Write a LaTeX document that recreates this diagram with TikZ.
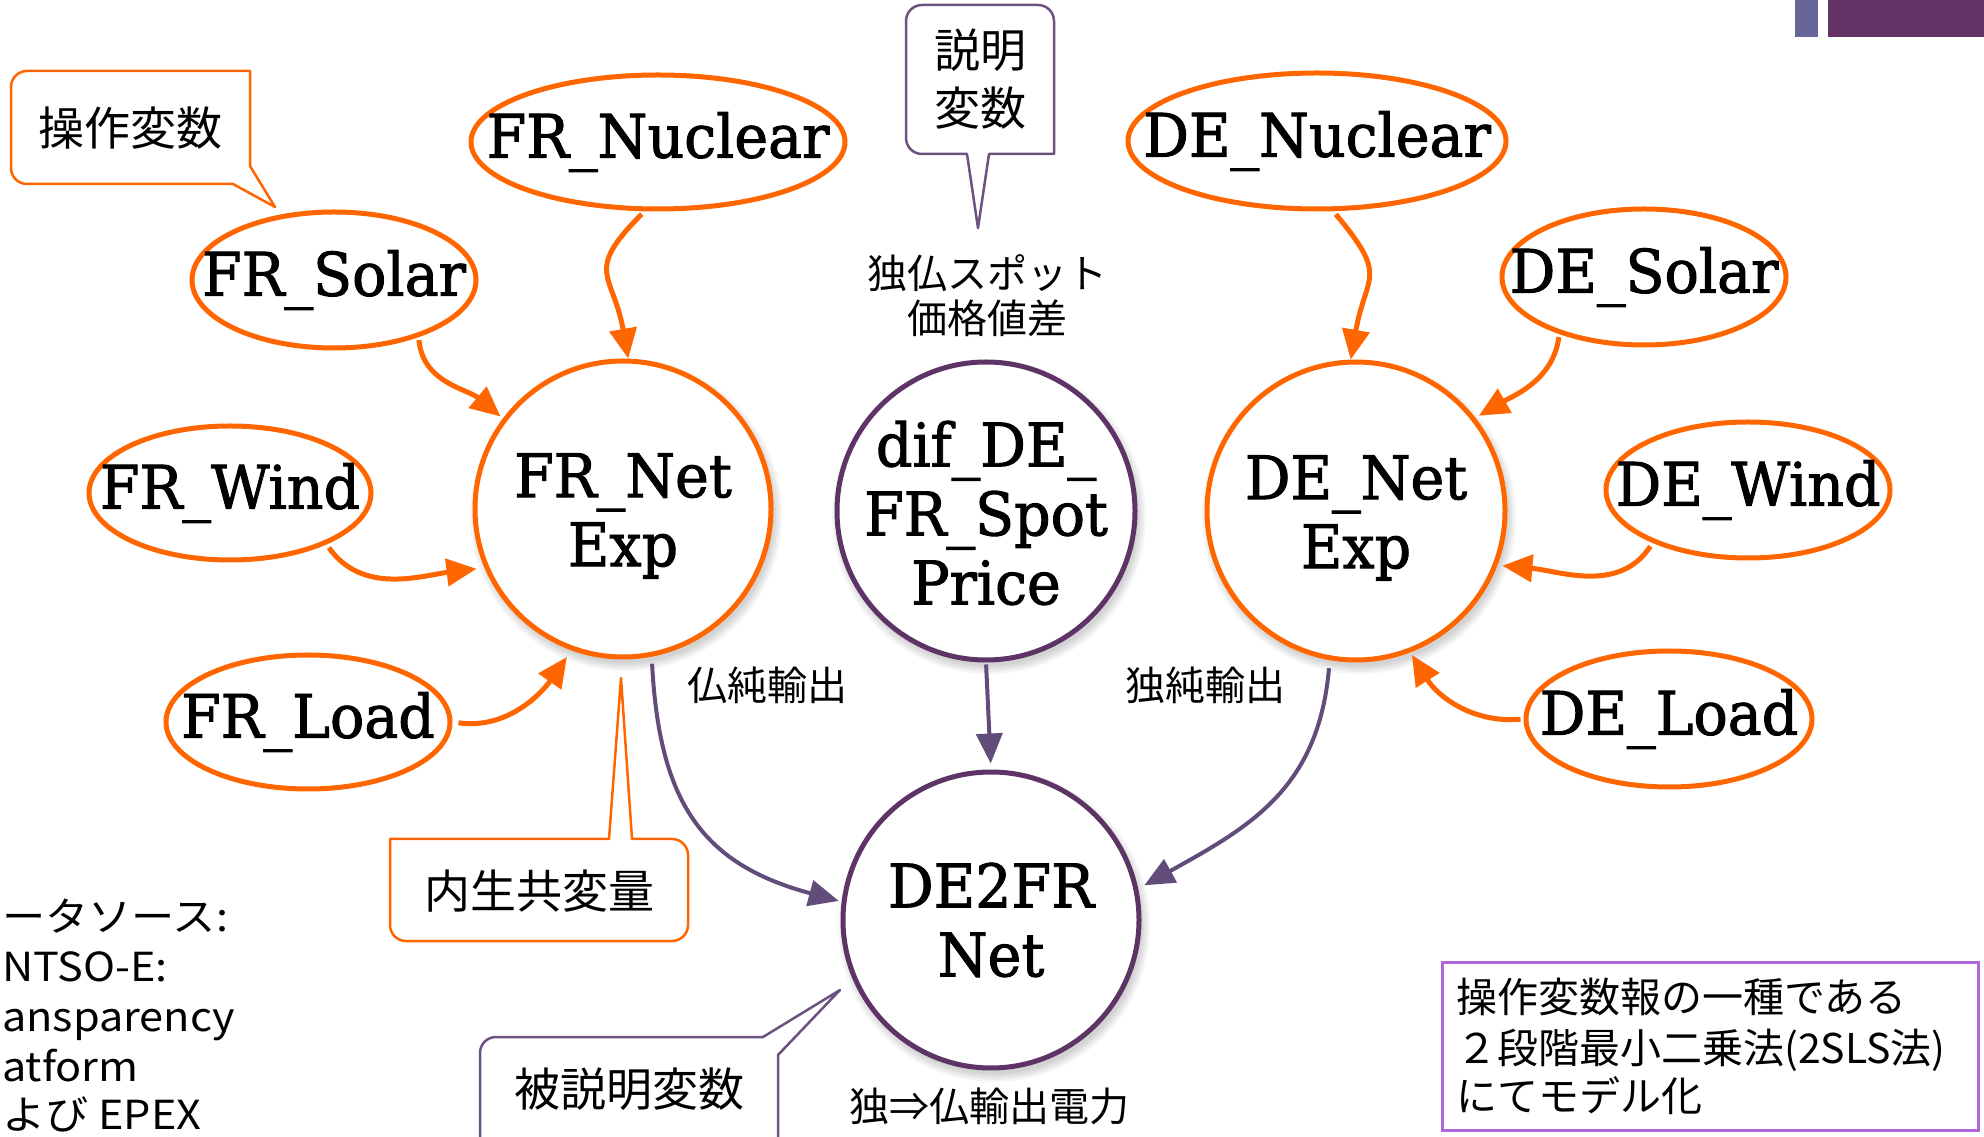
\documentclass[tikz,border=0pt]{standalone}
\usepackage{fontspec}
\setmainfont{Noto Sans CJK JP}
\newfontfamily\slabfont[FakeBold=1.6,FakeStretch=0.95]{DejaVu Serif}
\newfontfamily\srcfont[FakeStretch=1.08]{Noto Sans CJK JP}
\usetikzlibrary{arrows.meta,shapes.geometric}
\definecolor{myorange}{HTML}{FF6600}
\definecolor{circpurple}{HTML}{5E3366}
\definecolor{arrpurple}{HTML}{624C7A}
\definecolor{callpurple}{HTML}{6B5280}
\definecolor{boxlilac}{HTML}{B266DD}
\definecolor{barblue}{HTML}{65659A}
\definecolor{barpurple}{HTML}{663366}
\begin{document}
\begin{tikzpicture}[x=1pt,y=1pt,
  oell/.style={ellipse, draw=myorange, line width=5pt, fill=white, inner sep=0pt,
    font=\slabfont\fontsize{60}{69}\selectfont},
  ocirc/.style={circle, draw=myorange, line width=5pt, fill=white, inner sep=0pt, minimum size=296pt},
  pcirc/.style={circle, draw=circpurple, line width=5pt, fill=white, inner sep=0pt, minimum size=298pt},
  ctext/.style={align=center, inner sep=0pt, font=\slabfont\fontsize{60}{69}\selectfont},
  oarrow/.style={draw=myorange, line width=5pt, -{Triangle[length=30pt,width=27pt]}},
  parrow/.style={draw=arrpurple, line width=4pt, -{Triangle[length=30pt,width=26pt]}},
  jlabel/.style={inner sep=0pt, font=\fontsize{40}{45}\selectfont, align=center},
  jcall/.style={inner sep=0pt, font=\fontsize{46}{58}\selectfont, align=center},
  ocallout/.style={draw=myorange, line width=2.5pt, line join=round, line cap=round, fill=white},
  pcallout/.style={draw=callpurple, line width=2.5pt, line join=round, line cap=round, fill=white},
  srctext/.style={inner sep=0pt, anchor=base west, font=\srcfont\fontsize{40}{45}\selectfont},
  notetext/.style={inner sep=0pt, anchor=base west, font=\fontsize{41}{45}\selectfont},
]
\useasboundingbox (0,0) rectangle (1984,1136);
\clip (0,0) rectangle (1984,1136);
\fill[white] (0,0) rectangle (1984,1136);

% top-right bars
\fill[barblue] (1795,1099) rectangle (1818,1137);
\fill[barpurple] (1828,1099) rectangle (1985,1137);

% soft shadows of circles
\foreach \cx/\cy/\r in {623/627/148, 986/625/149, 1356/625/149, 991/216/148} {
  \foreach \k in {0,2,...,8} {
    \fill[black, opacity=0.035] (\cx+3,\cy-6) circle ({\r+\k});
  }
}

% ellipses
\node[oell, minimum width=374pt, minimum height=134pt] (FRNuc) at (658,994) {\makebox[0pt]{FR\_Nuclear}};
\node[oell, minimum width=284pt, minimum height=136pt] (FRSol) at (334,856) {\makebox[0pt]{FR\_Solar}};
\node[oell, minimum width=282pt, minimum height=134pt] (FRWind) at (230,643) {\makebox[0pt]{FR\_Wind}};
\node[oell, minimum width=284pt, minimum height=134pt] (FRLoad) at (308,414) {\makebox[0pt]{FR\_Load}};
\node[oell, minimum width=378pt, minimum height=136pt] (DENuc) at (1317,995) {\makebox[0pt]{DE\_Nuclear}};
\node[oell, minimum width=284pt, minimum height=136pt] (DESol) at (1644,859) {\makebox[0pt]{DE\_Solar}};
\node[oell, minimum width=284pt, minimum height=136pt] (DEWind) at (1748,646) {\makebox[0pt]{DE\_Wind}};
\node[oell, minimum width=286pt, minimum height=136pt] (DELoad) at (1669,417) {\makebox[0pt]{DE\_Load}};

% circles
\node[ocirc] (FRNet) at (623,627) {};
\node[ctext, yshift=-7pt] (FRNetT) at (FRNet.center) {FR\_Net\\Exp};
\node[pcirc] (DIF) at (986,625) {};
\node[ctext, yshift=-2pt] (DIFT) at (DIF.center) {dif\_DE\_\\FR\_Spot\\Price};
\node[ocirc, minimum size=298pt] (DENet) at (1356,625) {};
\node[ctext, yshift=-7pt] (DENetT) at (DENet.center) {DE\_Net\\Exp};
\node[pcirc, minimum size=296pt] (DE2FR) at (991,216) {};
\node[ctext] (DE2FRT) at (DE2FR.center) {DE2FR\\Net};

% orange connectors
\draw[oarrow, shorten <=4pt] (FRNuc.259) to[out=225,in=100,looseness=1.5] (FRNet.88);
\draw[oarrow, shorten <=3pt, shorten >=3pt] (FRSol.-34) to[out=-85,in=140] (FRNet.143);
\draw[oarrow, shorten <=4pt, shorten >=8pt] (FRWind.-28) to[out=-55,in=187] (FRNet.-157);
\draw[oarrow, shorten <=6pt, shorten >=8pt] (FRLoad.east) to[out=-8,in=235] (FRNet.-110);
\draw[oarrow, shorten <=4pt] (DENuc.-77) to[out=-50,in=80,looseness=1.5] (DENet.92);
\draw[oarrow, shorten <=3pt, shorten >=4pt] (DESol.214) to[out=-98,in=30] (DENet.38);
\draw[oarrow, shorten <=4pt, shorten >=5pt] (DEWind.209) to[out=237,in=-5] (DENet.-21);
\draw[oarrow, shorten <=3pt, shorten >=3pt] (DELoad.west) to[out=185,in=-58] (DENet.-69);

% purple connectors
\draw[parrow, shorten <=2pt, shorten >=6pt] (DIF.-90) -- (DE2FR.90);
\draw[parrow, shorten <=7pt, shorten >=3pt] (FRNet.-79) to[out=-87,in=165,looseness=1.2] (DE2FR.173);
\draw[parrow, shorten <=8pt, shorten >=7pt] (DENet.-100) to[out=-95,in=29,looseness=1.1] (DE2FR.12);

% connector labels
\node[jlabel] (lblFR) at (767,451) {仏純輸出};
\node[jlabel] (lblDE) at (1205,451) {独純輸出};
\node[jlabel] (lblDE2FR) at (989,30) {独⇒仏輸出電力};
\node[jlabel] (lblDIF) at (987,840) {独仏スポット\\価格値差};

% callouts
\draw[ocallout] (233,952) -- (275,929) -- (250,970) -- (250,1065)
  [rounded corners=16pt] -- (11,1065) -- (11,952) -- (233,952);
\node[jcall] (cInst) at (130,1008) {操作変数};

\draw[pcallout] (967,982) -- (978,908) -- (989,982) -- (1054,982)
  [rounded corners=16pt] -- (1054,1131) -- (906,1131) -- (906,982) -- (967,982);
\node[jcall] (cExpl) at (980,1057) {説明\\変数};

\draw[ocallout] (632,297) -- (621,458) -- (609,297) -- (390,297)
  [rounded corners=16pt] -- (390,195) -- (688,195) -- (688,297) -- (632,297);
\node[jcall] (cEndo) at (539,245) {内生共変量};

\draw[pcallout] (763,99) -- (840,146) -- (778,81) -- (778,-60)
  [rounded corners=16pt] -- (480,-60) -- (480,99) -- (763,99);
\node[jcall] (cDep) at (629,47) {被説明変数};

% data source text (as visible at the left edge)
\node[srctext] (src1) at (2,205) {ータソース:};
\node[srctext] (src2) at (2,155) {NTSO-E:};
\node[srctext] (src3) at (2,105) {ansparency};
\node[srctext] (src4) at (2,55) {atform};
\node[srctext] (src5) at (2,7) {よび EPEX};

% note box
\draw[draw=boxlilac, line width=3pt] (1442,6) rectangle (1978,174);
\node[notetext] (note1) at (1456,124) {操作変数報の一種である};
\node[notetext] (note2) at (1456,73) {２段階最小二乗法(2SLS法)};
\node[notetext] (note3) at (1456,25) {にてモデル化};
\end{tikzpicture}
\end{document}
